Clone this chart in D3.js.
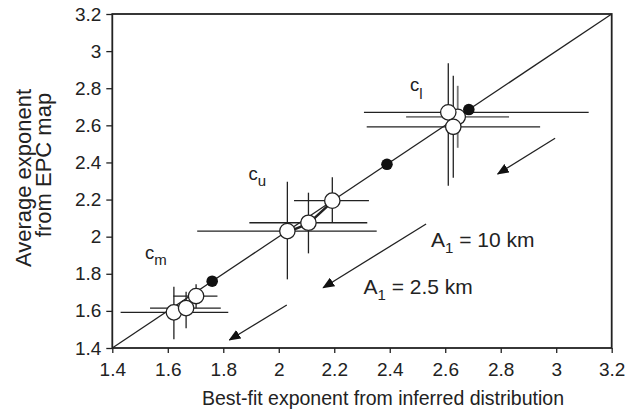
<!DOCTYPE html>
<html>
<head>
<meta charset="utf-8">
<script src="https://cdn.jsdelivr.net/npm/d3@7"></script>
<style>
  body { margin: 0; background: #fff; }
  text { font-family: "Liberation Sans", Arial, sans-serif; fill: #222; }
</style>
</head>
<body>
<div id="chart"></div>
<script>
// best-fit exponent (x) vs average EPC exponent (y), open symbols with error bars
var fitX = [1.622, 1.666, 1.702, 2.031, 2.107, 2.193, 2.645, 2.611, 2.629];
var mapY = [1.592, 1.615, 1.680, 2.030, 2.075, 2.194, 2.646, 2.670, 2.592];
var xLo  = [1.430, 1.536, 1.620, 1.706, 1.894, 2.055, 2.459, 2.307, 2.317];
var xHi  = [1.818, 1.791, 1.779, 2.353, 2.319, 2.325, 2.830, 3.117, 2.942];
var yLo  = [1.447, 1.506, 1.614, 1.770, 1.910, 2.075, 2.479, 2.274, 2.317];
var yHi  = [1.730, 1.703, 1.743, 2.296, 2.237, 2.320, 2.813, 2.935, 2.867];
var greyBar = [false, false, false, false, false, false, true, false, false];

// solid symbols on the 1:1 line
var solidVals = [1.76, 2.39, 2.685];

// the three upper (cu) points joined by a line
var joined = [3, 4, 5];

// arrows (tail -> head), in data units
var arrowTail = [[2.996, 2.530], [2.531, 2.068], [2.029, 1.632]];
var arrowHead = [[2.789, 2.338], [2.160, 1.725], [1.822, 1.443]];

var tickVals = [1.4, 1.6, 1.8, 2.0, 2.2, 2.4, 2.6, 2.8, 3.0, 3.2];

(function() {
var width = 641, height = 415;
var plotL = 112.3, plotR = 611.7, plotT = 14, plotB = 348;

var svg = d3.select("#chart").append("svg")
    .attr("width", width)
    .attr("height", height);

var x = d3.scaleLinear().domain([1.4, 3.2]).range([plotL, plotR]);
var y = d3.scaleLinear().domain([1.4, 3.2]).range([plotB, plotT]);

var fmt = function(d) { return String(+d.toFixed(1)); };

svg.append("defs").append("marker")
    .attr("id", "head")
    .attr("viewBox", "0 0 12 10")
    .attr("refX", 11)
    .attr("refY", 5)
    .attr("markerWidth", 12)
    .attr("markerHeight", 10)
    .attr("markerUnits", "userSpaceOnUse")
    .attr("orient", "auto")
    .append("path")
    .attr("d", "M0,0 L12,5 L0,10 Z")
    .attr("fill", "#111");

// axes
var xAxis = svg.append("g")
    .attr("transform", "translate(0," + plotB + ")")
    .call(d3.axisBottom(x).tickValues(tickVals).tickFormat(fmt).tickSize(5).tickPadding(10));
var yAxis = svg.append("g")
    .attr("transform", "translate(" + plotL + ",0)")
    .call(d3.axisLeft(y).tickValues(tickVals).tickFormat(fmt).tickSize(6).tickPadding(5));

[xAxis, yAxis].forEach(function(g) {
  g.select(".domain").remove();
  g.selectAll("line").attr("stroke", "#222").attr("stroke-width", 1.3);
  g.selectAll("text")
    .attr("font-family", "Liberation Sans, Arial, sans-serif")
    .attr("font-size", 19)
    .attr("fill", "#222");
});

// frame
svg.append("rect")
    .attr("x", plotL).attr("y", plotT)
    .attr("width", plotR - plotL).attr("height", plotB - plotT)
    .attr("fill", "none")
    .attr("stroke", "#222")
    .attr("stroke-width", 1.8);

// 1:1 line
svg.append("line")
    .attr("x1", x(1.4)).attr("y1", y(1.4))
    .attr("x2", x(3.2)).attr("y2", y(3.2))
    .attr("stroke", "#222").attr("stroke-width", 1.3);

// error bars
var idx = d3.range(fitX.length);
var bars = svg.append("g");
bars.selectAll(".hbar").data(idx).enter().append("line")
    .attr("x1", function(i) { return x(xLo[i]); })
    .attr("x2", function(i) { return x(xHi[i]); })
    .attr("y1", function(i) { return y(mapY[i]); })
    .attr("y2", function(i) { return y(mapY[i]); })
    .attr("stroke", function(i) { return greyBar[i] ? "#777" : "#222"; })
    .attr("stroke-width", function(i) { return greyBar[i] ? 1.8 : 1.3; });
bars.selectAll(".vbar").data(idx).enter().append("line")
    .attr("x1", function(i) { return x(fitX[i]); })
    .attr("x2", function(i) { return x(fitX[i]); })
    .attr("y1", function(i) { return y(yLo[i]); })
    .attr("y2", function(i) { return y(yHi[i]); })
    .attr("stroke", function(i) { return greyBar[i] ? "#777" : "#222"; })
    .attr("stroke-width", function(i) { return greyBar[i] ? 1.8 : 1.3; });

// thick line joining the cu points
svg.append("path")
    .datum(joined)
    .attr("d", d3.line().x(function(i) { return x(fitX[i]); }).y(function(i) { return y(mapY[i]) + 1; }))
    .attr("fill", "none")
    .attr("stroke", "#222")
    .attr("stroke-width", 2.5);

// open circles
svg.append("g").selectAll("circle").data(idx).enter().append("circle")
    .attr("cx", function(i) { return x(fitX[i]); })
    .attr("cy", function(i) { return y(mapY[i]); })
    .attr("r", 7.7)
    .attr("fill", "#fff")
    .attr("stroke", "#222")
    .attr("stroke-width", 1.3);

// solid circles
svg.append("g").selectAll("circle").data(solidVals).enter().append("circle")
    .attr("cx", function(d) { return x(d); })
    .attr("cy", function(d) { return y(d); })
    .attr("r", 5.8)
    .attr("fill", "#111");

// arrows
svg.append("g").selectAll("line").data(d3.range(arrowTail.length)).enter().append("line")
    .attr("x1", function(i) { return x(arrowTail[i][0]); })
    .attr("y1", function(i) { return y(arrowTail[i][1]); })
    .attr("x2", function(i) { return x(arrowHead[i][0]); })
    .attr("y2", function(i) { return y(arrowHead[i][1]); })
    .attr("stroke", "#222")
    .attr("stroke-width", 1.3)
    .attr("marker-end", "url(#head)");

// cluster labels
function subLabel(px, py, main, sub, fs, sfs, dy) {
  var t = svg.append("text").attr("x", px).attr("y", py).attr("font-size", fs);
  t.append("tspan").text(main);
  t.append("tspan").attr("font-size", sfs).attr("dy", dy).text(sub);
  return t;
}
subLabel(145, 259, "c", "m", 18.5, 15, 6);
subLabel(248.5, 180, "c", "u", 18.5, 15, 6);
subLabel(410, 91, "c", "l", 18.5, 15, 8);

// A1 labels
var a10 = svg.append("text").attr("x", 431).attr("y", 246.5).attr("font-size", 21);
a10.append("tspan").text("A");
a10.append("tspan").attr("font-size", 15).attr("dy", 6).text("1");
a10.append("tspan").attr("dy", -6).text(" = 10 km");

var a25 = svg.append("text").attr("x", 363.5).attr("y", 294).attr("font-size", 21);
a25.append("tspan").text("A");
a25.append("tspan").attr("font-size", 15).attr("dy", 6).text("1");
a25.append("tspan").attr("dy", -6).text(" = 2.5 km");

// axis titles
svg.append("text")
    .attr("x", 383)
    .attr("y", 405)
    .attr("text-anchor", "middle")
    .attr("font-size", 19.5)
    .text("Best-fit exponent from inferred distribution");

svg.append("text")
    .attr("transform", "translate(31,178) rotate(-90)")
    .attr("text-anchor", "middle")
    .attr("font-size", 22)
    .text("Average exponent");
svg.append("text")
    .attr("transform", "translate(51,165) rotate(-90)")
    .attr("text-anchor", "middle")
    .attr("font-size", 22)
    .text("from EPC map");
})();
</script>
</body>
</html>
